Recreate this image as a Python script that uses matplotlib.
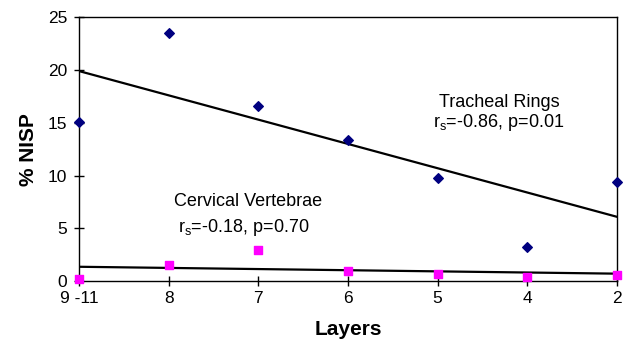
import numpy as np
import matplotlib
matplotlib.use("Agg")
import matplotlib.pyplot as plt

plt.rcParams['font.family'] = ['Liberation Sans', 'DejaVu Sans']
plt.rcParams['mathtext.fontset'] = 'custom'
plt.rcParams['mathtext.rm'] = 'Liberation Sans'

layers = ["9 -11", "8", "7", "6", "5", "4", "2"]
tracheal = [15.1, 23.5, 16.6, 13.4, 9.8, 3.2, 9.4]
cervical = [0.15, 1.5, 2.9, 0.9, 0.7, 0.4, 0.6]

x = np.arange(len(layers))

fig = plt.figure(figsize=(6.32, 3.41), dpi=100)
ax = fig.add_axes([0.125, 0.176, 0.851, 0.773])

# linear trend lines
for vals in (tracheal, cervical):
    m, b = np.polyfit(x, vals, 1)
    ax.plot(x, m * x + b, color='black', lw=1.6, zorder=2)

ax.scatter(x, tracheal, marker='D', s=24, color='#000080', zorder=3, clip_on=False)
ax.scatter(x, cervical, marker='s', s=28, color='#FF00FF', zorder=3, clip_on=False)

ax.set_xlim(0, 6)
ax.set_ylim(0, 25)
ax.set_xticks(x)
ax.set_xticklabels(layers)
ax.set_yticks(np.arange(0, 26, 5))
ax.tick_params(axis='x', direction='inout', length=7, width=1, labelsize=12.5, pad=3.5)
ax.tick_params(axis='y', direction='inout', length=7, width=1, labelsize=12.5, pad=5)
for sp in ax.spines.values():
    sp.set_linewidth(1)

ax.set_xlabel('Layers', fontsize=15, fontweight='bold', labelpad=10)
ax.set_ylabel('% NISP', fontsize=15, fontweight='bold', labelpad=7)

ax.text(4.69, 16.54, 'Tracheal Rings', ha='center', va='baseline', fontsize=13)
ax.text(4.68, 14.64, 'r$_\\mathregular{s}$=-0.86, p=0.01', ha='center', va='baseline', fontsize=13)
ax.text(1.89, 7.12, 'Cervical Vertebrae', ha='center', va='baseline', fontsize=13)
ax.text(1.84, 4.65, 'r$_\\mathregular{s}$=-0.18, p=0.70', ha='center', va='baseline', fontsize=13)

fig.savefig('out.png', dpi=100)
